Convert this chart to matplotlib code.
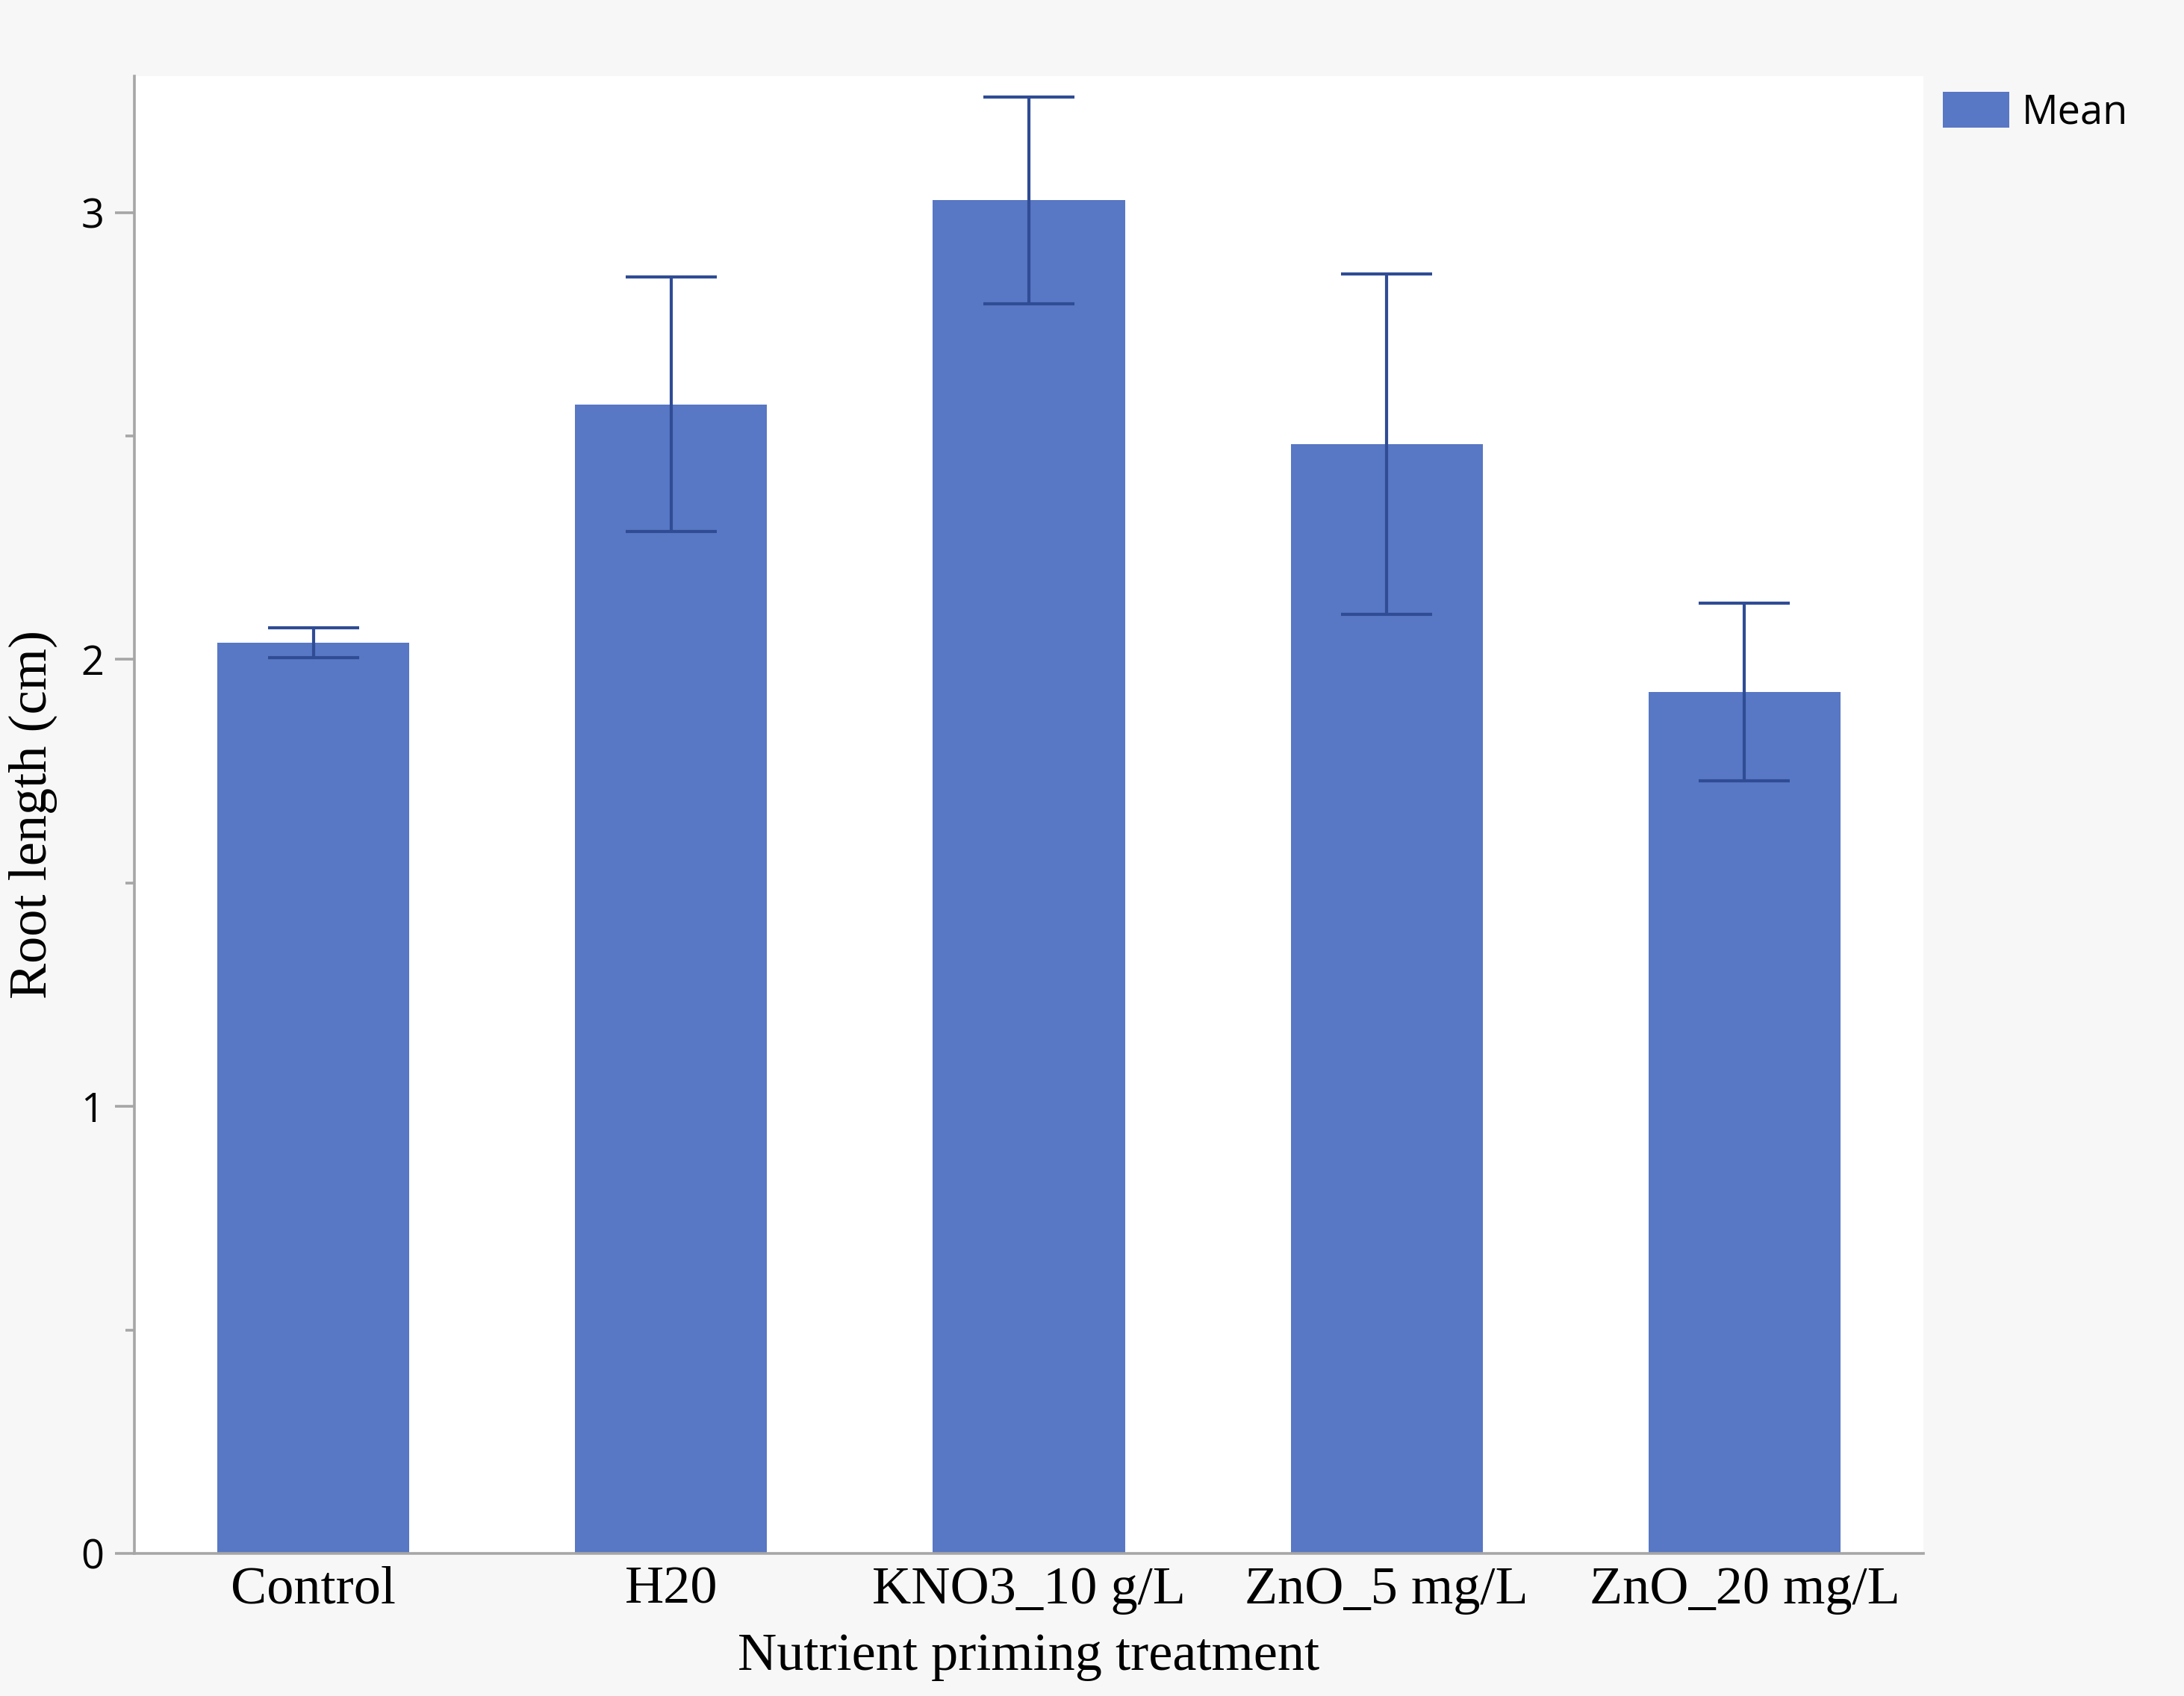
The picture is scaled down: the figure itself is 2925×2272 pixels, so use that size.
import matplotlib
matplotlib.use("Agg")
import matplotlib.pyplot as plt
from matplotlib.ticker import MultipleLocator

# values
treatments = ["Control", "H20", "KNO3_10 g/L", "ZnO_5 mg/L", "ZnO_20 mg/L"]
mean_root = [2.037, 2.571, 3.027, 2.482, 1.927]
err_root = [0.033, 0.285, 0.231, 0.381, 0.199]

bar_col = "#5877c4"
err_col = "#2f4c94"
axis_col = "#a6a6a6"
bg_col = "#f7f7f7"

fig = plt.figure(figsize=(14.625, 11.36), dpi=200, facecolor=bg_col)
ax = fig.add_axes([0.0615, 0.0841, 0.8192, 0.871])
ax.set_facecolor("white")

x = list(range(len(treatments)))
ax.bar(x, mean_root, width=0.537, color=bar_col, label="Mean", zorder=2)
ax.errorbar(x, mean_root, yerr=err_root, fmt="none", ecolor=err_col,
            elinewidth=1.5, capsize=22, capthick=1.5, zorder=3)

ax.set_xlim(-0.5, len(treatments) - 0.5)
ax.set_ylim(0, 3.305)
ax.yaxis.set_major_locator(MultipleLocator(1))
ax.yaxis.set_minor_locator(MultipleLocator(0.5))

for side in ["top", "right"]:
    ax.spines[side].set_visible(False)
for side in ["left", "bottom"]:
    ax.spines[side].set_color(axis_col)
    ax.spines[side].set_linewidth(1.3)

ax.tick_params(axis="y", which="major", length=9.5, width=1.3, color=axis_col,
               pad=5, labelsize=19.5)
ax.tick_params(axis="y", which="minor", length=4.5, width=1.3, color=axis_col)
ax.tick_params(axis="x", length=0, pad=6, labelsize=26)
for lab in ax.get_yticklabels():
    lab.set_fontfamily("Open Sans")

ax.set_xticks(x)
ax.set_xticklabels(treatments, fontfamily="Liberation Serif")
ax.set_xlabel("Nutrient priming treatment", fontfamily="Liberation Serif",
              fontsize=26, labelpad=8.7)
ax.set_ylabel("Root length (cm)", fontfamily="Liberation Serif",
              fontsize=26, labelpad=11.3)

fig.legend(loc="upper left", bbox_to_anchor=(0.8896, 0.946), frameon=False,
           borderpad=0, borderaxespad=0, handlelength=1.65, handleheight=1.0,
           handletextpad=0.3, prop={"family": "Open Sans", "size": 19.5})

fig.savefig("out.png", dpi=200, facecolor=bg_col)
